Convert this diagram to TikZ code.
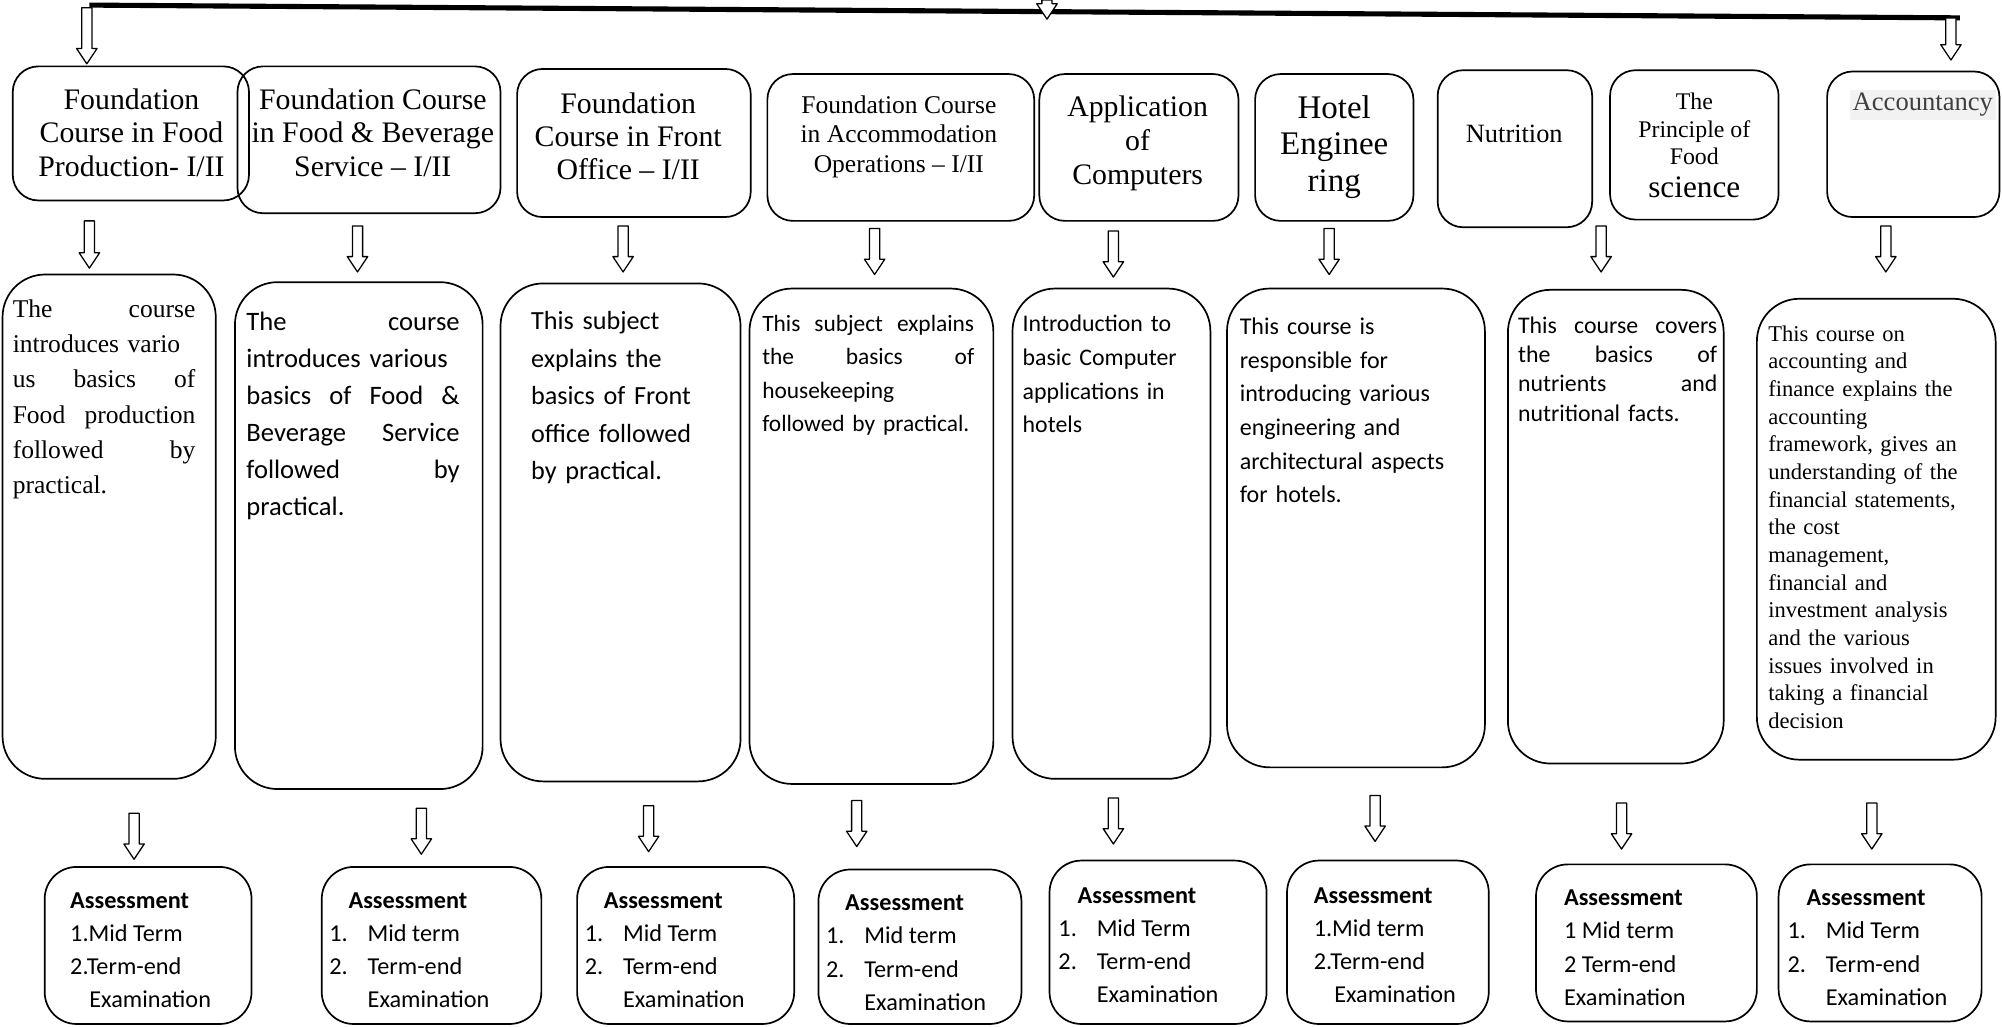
\documentclass[tikz,border=0pt]{standalone}
\usepackage{fontspec}
\setmainfont{Liberation Serif}
\newfontfamily\calib{Carlito}
\usetikzlibrary{fit}
\newcommand\jl[2]{\noindent{\spaceskip=0pt\xspaceskip=0pt\makebox[#1][s]{#2}}}
\newcommand\nbox[1]{\makebox[18pt][l]{#1}}

\begin{document}
\begin{tikzpicture}
[x=0.6pt,y=-0.6pt,line join=round,
  every node/.style={inner sep=0pt,outer sep=0pt},
  tbox/.style = {draw,line width=0.8pt,rounded corners=12pt},
  dbox/.style = {draw,line width=0.8pt,rounded corners=20pt},
  abox/.style = {draw,line width=0.8pt,rounded corners=15pt},
  ttl/.style = {align=center,font=\fontsize{14}{15.6}\selectfont},
  desc/.style = {anchor=north west,align=left},
  asm/.style = {anchor=north west,align=left,font=\calib\fontsize{11.4}{15.6}\selectfont},
  hollow/.style = {line width=0.6pt,fill=white,
    to path={([xshift=-2.4pt]\tikztostart) -- ([xshift=-2.4pt,yshift=7.2pt]\tikztotarget)
      -- ([xshift=-4.8pt,yshift=7.2pt]\tikztotarget) -- (\tikztotarget)
      -- ([xshift=4.8pt,yshift=7.2pt]\tikztotarget) -- ([xshift=2.4pt,yshift=7.2pt]\tikztotarget)
      -- ([xshift=2.4pt]\tikztostart) -- cycle}}]
\useasboundingbox (0,0) rectangle (1568,804);

% top bar
\coordinate (lineL) at (70,4);
\coordinate (lineR) at (1535,14);
\draw[line width=2.4pt] (lineL) -- (lineR);
\coordinate (topM) at (820,0);
\coordinate (lineM) at (820,15);
\coordinate (topL) at (68,6);
\coordinate (t1i) at (68,50);
\coordinate (topR) at (1528,14);
\coordinate (t9i) at (1528,47);

% course titles
\node[tbox,fit={(10,52) (195,157)}] (t1) {};
\node[ttl] (t1x) at (103,104) {Foundation\\Course in Food\\Production- I/II};
\node[tbox,fit={(186,52) (392,167)}] (t2) {};
\node[ttl] (t2x) at (292,104) {Foundation Course\\in Food \& Beverage\\Service – I/II};
\node[tbox,fit={(405,54) (588,170)}] (t3) {};
\node[ttl] (t3x) at (492,107) {Foundation\\Course in Front\\Office – I/II};
\node[tbox,fit={(601,58) (810,173)}] (t4) {};
\node[ttl,font=\fontsize{12}{13.8}\selectfont] (t4x) at (704,107) {Foundation Course\\in Accommodation\\Operations – I/II};
\node[tbox,fit={(814,58) (970,173)}] (t5) {};
\node[ttl,font=\fontsize{14}{16}\selectfont] (t5x) at (891,112) {Application\\of\\Computers};
\node[tbox,fit={(983,58) (1107,173)}] (t6) {};
\node[ttl,font=\fontsize{15.5}{17.1}\selectfont] (t6x) at (1045,115) {Hotel\\Enginee\\ring};
\node[tbox,fit={(1126,55) (1247,178)}] (t7) {};
\node[ttl,font=\fontsize{12.4}{14}\selectfont] (t7x) at (1186,105) {Nutrition};
\node[tbox,fit={(1261,55) (1393,172)}] (t8) {};
\node[ttl,font=\fontsize{11.2}{12.9}\selectfont] (t8x) at (1327,114) {The\\Principle of\\Food\\[2.7pt]{\fontsize{14.7}{17}\selectfont science}};
\node[tbox,fit={(1431,56) (1566,170)}] (t9) {};
\node[font=\fontsize{12.5}{14}\selectfont,text=black!75,fill=black!5,inner sep=1.5pt] (t9x) at (1506,82) {Accountancy};

% descriptions
\node[dbox,fit={(2,215) (169,610)}] (d1) {};
\node[desc,text width=85.8pt,font=\fontsize{12}{16.5}\selectfont] (d1x) at (10,235)
  {\jl{85.8pt}{The course}\\introduces vario\\\jl{85.8pt}{us basics of}\\\jl{85.8pt}{Food production}\\\jl{85.8pt}{followed by}\\practical.};
\node[dbox,fit={(184,221) (378,618)}] (d2) {};
\node[desc,text width=100.2pt,font=\calib\fontsize{12.5}{17.4}\selectfont] (d2x) at (193,244)
  {\jl{100.2pt}{The course}\\introduces various\\\jl{100.2pt}{basics of Food \&}\\\jl{100.2pt}{Beverage Service}\\\jl{100.2pt}{followed by}\\practical.};
\node[dbox,fit={(392,222) (580,612)}] (d3) {};
\node[desc,text width=100pt,font=\calib\fontsize{12.3}{17.6}\selectfont] (d3x) at (416,244)
  {This subject\\explains the\\basics of Front\\office followed\\by practical.};
\node[dbox,fit={(587,226) (778,614)}] (d4) {};
\node[desc,text width=99.6pt,font=\calib\fontsize{11}{15.6}\selectfont] (d4x) at (597,247)
  {\jl{99.6pt}{This subject explains}\\\jl{99.6pt}{the basics of}\\housekeeping\\followed by practical.};
\node[dbox,fit={(793,226) (948,610)}] (d5) {};
\node[desc,text width=85pt,font=\calib\fontsize{11.2}{15.8}\selectfont] (d5x) at (801,247)
  {Introduction to\\basic Computer\\applications in\\hotels};
\node[dbox,fit={(961,226) (1163,601)}] (d6) {};
\node[desc,text width=110pt,font=\calib\fontsize{11.3}{15.8}\selectfont] (d6x) at (971,249)
  {This course is\\responsible for\\introducing various\\engineering and\\architectural aspects\\for hotels.};
\node[dbox,fit={(1181,227) (1350,598)}] (d7) {};
\node[desc,text width=93.6pt,font=\calib\fontsize{11.2}{13.8}\selectfont] (d7x) at (1189,248)
  {\jl{93.6pt}{This course covers}\\\jl{93.6pt}{the basics of}\\\jl{93.6pt}{nutrients and}\\nutritional facts.};
\node[dbox,fit={(1376,234) (1563,595)}] (d8) {};
\node[desc,text width=100pt,font=\fontsize{10.6}{13}\selectfont] (d8x) at (1385,255)
  {This course on\\accounting and\\finance explains the\\accounting\\framework, gives an\\understanding of the\\financial statements,\\the cost\\management,\\financial and\\investment analysis\\and the various\\issues involved in\\taking a financial\\decision};

% assessments
\node[abox,fit={(35,679) (197,802)}] (a1) {};
\node[asm] (a1x) at (55,699) {\textbf{Assessment}\\1.Mid Term\\2.Term-end\\\hspace*{9pt}Examination};
\node[abox,fit={(252,679) (424,802)}] (a2) {};
\node[asm] (a2x) at (258,699) {\hspace*{9pt}\textbf{Assessment}\\\nbox{1.}Mid term\\\nbox{2.}Term-end\\\hspace*{18pt}Examination};
\node[abox,fit={(452,679) (622,802)}] (a3) {};
\node[asm] (a3x) at (458,699) {\hspace*{9pt}\textbf{Assessment}\\\nbox{1.}Mid Term\\\nbox{2.}Term-end\\\hspace*{18pt}Examination};
\node[abox,fit={(641,681) (800,802)}] (a4) {};
\node[asm] (a4x) at (647,701) {\hspace*{9pt}\textbf{Assessment}\\\nbox{1.}Mid term\\\nbox{2.}Term-end\\\hspace*{18pt}Examination};
\node[abox,fit={(822,674) (992,802)}] (a5) {};
\node[asm] (a5x) at (829,695) {\hspace*{9pt}\textbf{Assessment}\\\nbox{1.}Mid Term\\\nbox{2.}Term-end\\\hspace*{18pt}Examination};
\node[abox,fit={(1008,674) (1166,802)}] (a6) {};
\node[asm] (a6x) at (1029,695) {\textbf{Assessment}\\1.Mid term\\2.Term-end\\\hspace*{9.6pt}Examination};
\node[abox,fit={(1203,677) (1376,800)}] (a7) {};
\node[asm] (a7x) at (1225,697) {\textbf{Assessment}\\1 Mid term\\2 Term-end\\Examination};
\node[abox,fit={(1393,677) (1552,800)}] (a8) {};
\node[asm] (a8x) at (1400,697) {\hspace*{9pt}\textbf{Assessment}\\\nbox{1.}Mid Term\\\nbox{2.}Term-end\\\hspace*{18pt}Examination};

% arrow ends
\coordinate (t1o) at (70,173);   \coordinate (d1i) at (70,210);
\coordinate (t2o) at (280,177);  \coordinate (d2i) at (280,213);
\coordinate (t3o) at (488,177);  \coordinate (d3i) at (488,213);
\coordinate (t4o) at (685,179);  \coordinate (d4i) at (685,215);
\coordinate (t5o) at (872,181);  \coordinate (d5i) at (872,217);
\coordinate (t6o) at (1041,179); \coordinate (d6i) at (1041,215);
\coordinate (t7o) at (1254,177); \coordinate (d7i) at (1254,213);
\coordinate (t9o) at (1477,177); \coordinate (d8i) at (1477,213);
\coordinate (d1o) at (105,637);  \coordinate (a1i) at (105,673);
\coordinate (d2o) at (330,633);  \coordinate (a2i) at (330,669);
\coordinate (d3o) at (508,631);  \coordinate (a3i) at (508,667);
\coordinate (d4o) at (671,627);  \coordinate (a4i) at (671,663);
\coordinate (d5o) at (872,625);  \coordinate (a5i) at (872,661);
\coordinate (d6o) at (1077,623); \coordinate (a6i) at (1077,659);
\coordinate (d7o) at (1270,629); \coordinate (a7i) at (1270,665);
\coordinate (d8o) at (1466,629); \coordinate (a8i) at (1466,665);

\draw[hollow] (topM) to (lineM);
\draw[hollow] (topL) to (t1i);
\draw[hollow] (topR) to (t9i);
\draw[hollow] (t1o) to (d1i);
\draw[hollow] (t2o) to (d2i);
\draw[hollow] (t3o) to (d3i);
\draw[hollow] (t4o) to (d4i);
\draw[hollow] (t5o) to (d5i);
\draw[hollow] (t6o) to (d6i);
\draw[hollow] (t7o) to (d7i);
\draw[hollow] (t9o) to (d8i);
\draw[hollow] (d1o) to (a1i);
\draw[hollow] (d2o) to (a2i);
\draw[hollow] (d3o) to (a3i);
\draw[hollow] (d4o) to (a4i);
\draw[hollow] (d5o) to (a5i);
\draw[hollow] (d6o) to (a6i);
\draw[hollow] (d7o) to (a7i);
\draw[hollow] (d8o) to (a8i);
\end{tikzpicture}
\end{document}
